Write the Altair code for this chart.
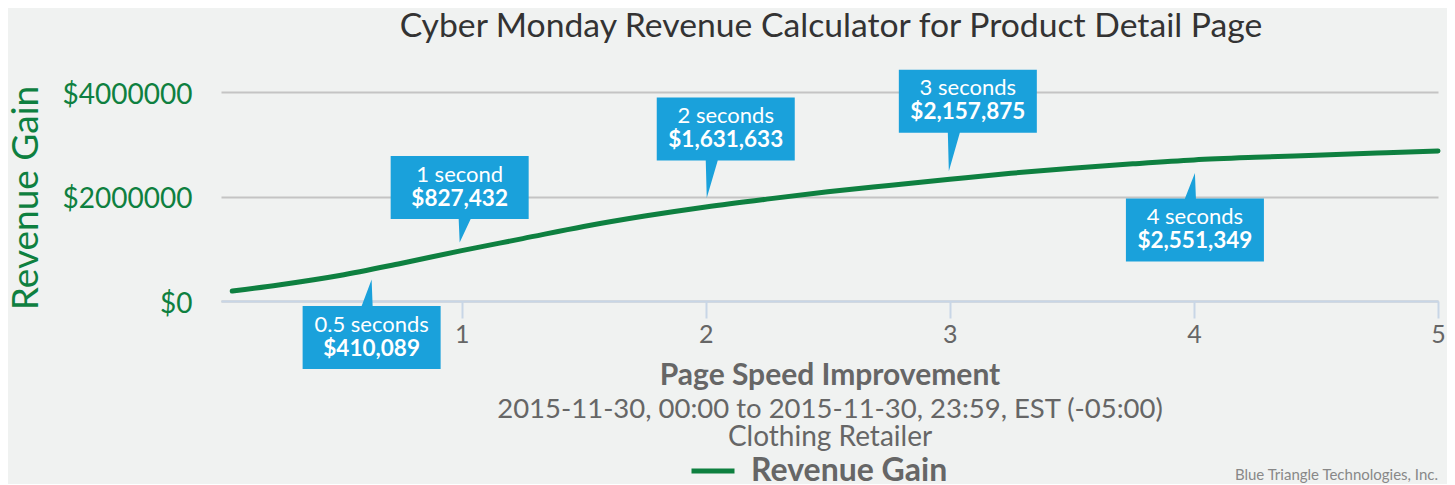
import altair as alt
import pandas as pd

# ---------------- data ----------------
line_x = [0.06, 0.25, 0.5, 0.75, 1.0, 1.25, 1.5, 1.75, 2.0, 2.25, 2.5, 2.75,
          3.0, 3.25, 3.5, 3.75, 4.0, 4.25, 4.5, 4.75, 5.0]
line_y = [190000, 306000, 487000, 719000, 965000, 1194000, 1426000, 1626000,
          1800000, 1950000, 2089000, 2211000, 2330000, 2445000, 2540000,
          2625000, 2700000, 2750000, 2790000, 2832000, 2872000]
series_name = "Revenue Gain"

call_x = [0.5, 1, 2, 3, 4]
call_label = ["0.5 seconds", "1 second", "2 seconds", "3 seconds", "4 seconds"]
call_value = ["$410,089", "$827,432", "$1,631,633", "$2,157,875", "$2,551,349"]

y_ticks = [0, 2000000, 4000000]
x_ticks = [1, 2, 3, 4, 5]

title_text = "Cyber Monday Revenue Calculator for Product Detail Page"
y_title = "Revenue Gain"
x_title = "Page Speed Improvement"
subtitle_1 = "2015-11-30, 00:00 to 2015-11-30, 23:59, EST (-05:00)"
subtitle_2 = "Clothing Retailer"
credit_text = "Blue Triangle Technologies, Inc."

# ---------------- style ----------------
FONT = "Lato"
GREEN = "#0e8040"
BLUE = "#1aa1db"
GRAY = "#666666"
BG = "#f0f2f1"
W, H = 1217, 209

# callout geometry (pixels, relative to the anchored point on the line)
geom = [
    dict(tip=(32, 4), box=(32, 62)),
    dict(tip=(-2, -8), box=(-2, -63)),
    dict(tip=(1, -9), box=(20, -78)),
    dict(tip=(-1, -8), box=(18, -78)),
    dict(tip=(1, 13), box=(1, 70)),
]
BW, BH = 138, 63


def callout_path(tip, box):
    tx, ty = tip
    bx, by = box
    l, r, t, b = bx - BW / 2, bx + BW / 2, by - BH / 2, by + BH / 2
    if ty < t:
        pts = [(l, t), (tx - 10, t), (tx, ty), (tx + 1, t), (r, t), (r, b), (l, b)]
    else:
        pts = [(l, t), (r, t), (r, b), (tx + 11, b), (tx, ty), (tx - 1, b), (l, b)]
    return "M" + " L".join(f"{x:.1f} {y:.1f}" for x, y in pts) + " Z"


line_df = pd.DataFrame({"x": line_x, "y": line_y, "series": series_name})
anchor_y = [line_y[line_x.index(v)] for v in call_x]
call_df = pd.DataFrame({"idx": list(range(len(call_x))), "x": call_x, "y": anchor_y,
                        "l1": call_label, "l2": call_value})

xscale = alt.Scale(domain=[0.014, 5], nice=False, zero=False)
yscale = alt.Scale(domain=[0, 4000000], nice=False)

line = alt.Chart(line_df).mark_line(
    strokeWidth=5, interpolate="monotone", strokeCap="round"
).encode(
    x=alt.X("x:Q", scale=xscale, axis=alt.Axis(
        values=x_ticks, format="d", grid=False, title=None, labelFontSize=25,
        labelColor=GRAY, labelFont=FONT, tickColor="#c8d6e6", tickWidth=2, tickSize=17,
        labelPadding=4, domainColor="#c8d6e6", domainWidth=2, labelFlush=False)),
    y=alt.Y("y:Q", scale=yscale, axis=alt.Axis(
        values=y_ticks, grid=True, gridColor="#c4c4c4", gridWidth=2, ticks=False,
        domain=False, title=None, labelFontSize=28, labelColor=GREEN, labelFont=FONT,
        labelPadding=29, labelExpr="'$' + datum.value", labelOffset=3)),
    color=alt.Color("series:N", scale=alt.Scale(domain=[series_name], range=[GREEN]),
                    legend=alt.Legend(
                        title=None, orient="none", legendX=468, legendY=355,
                        symbolType="stroke", symbolSize=1849, symbolStrokeWidth=5,
                        labelFont=FONT, labelFontSize=32, labelFontWeight="bold",
                        labelColor=GRAY, labelOffset=14, labelLimit=500)),
)

layers = [line]
for i, g in enumerate(geom):
    (bx, by) = g["box"]
    base = alt.Chart(call_df).transform_filter(f"datum.idx == {i}").encode(
        x=alt.X("x:Q", scale=xscale), y=alt.Y("y:Q", scale=yscale))
    layers.append(base.mark_point(
        shape=callout_path(g["tip"], g["box"]), size=4, filled=True, opacity=1,
        color=BLUE, strokeWidth=0))
    layers.append(base.mark_text(
        dx=bx, dy=by - 6, font=FONT, fontSize=22, color="white", baseline="alphabetic",
        align="center").encode(text="l1:N"))
    layers.append(base.mark_text(
        dx=bx, dy=by + 18, font=FONT, fontSize=22.5, fontWeight="bold", color="white",
        baseline="alphabetic", align="center").encode(text="l2:N"))


def label(text, x, y, size, weight="normal", color=GRAY, align="center", angle=0):
    return alt.Chart(pd.DataFrame({"t": [text]})).mark_text(
        font=FONT, fontSize=size, fontWeight=weight, color=color, align=align,
        baseline="alphabetic", angle=angle
    ).encode(text="t:N", x=alt.value(x), y=alt.value(y))


layers += [
    label(title_text, 610, -55, 33.7, color="#333333"),
    label(y_title, -183, 106, 37, color=GREEN, angle=270),
    label(x_title, 609, 293, 30, weight="bold"),
    label(subtitle_1, 609, 326, 27.5),
    label(subtitle_2, 609, 354, 28),
    label(credit_text, 1217, 388, 15, color="#888888", align="right"),
]

chart = alt.layer(*layers).properties(
    width=W, height=H,
    padding={"left": 213, "top": 84, "right": 9, "bottom": 183},
    autosize=alt.AutoSizeParams(type="none"),
    background=BG,
).configure_view(stroke=None)

chart.save("out.html", embed_options={"renderer": "svg", "actions": False})
